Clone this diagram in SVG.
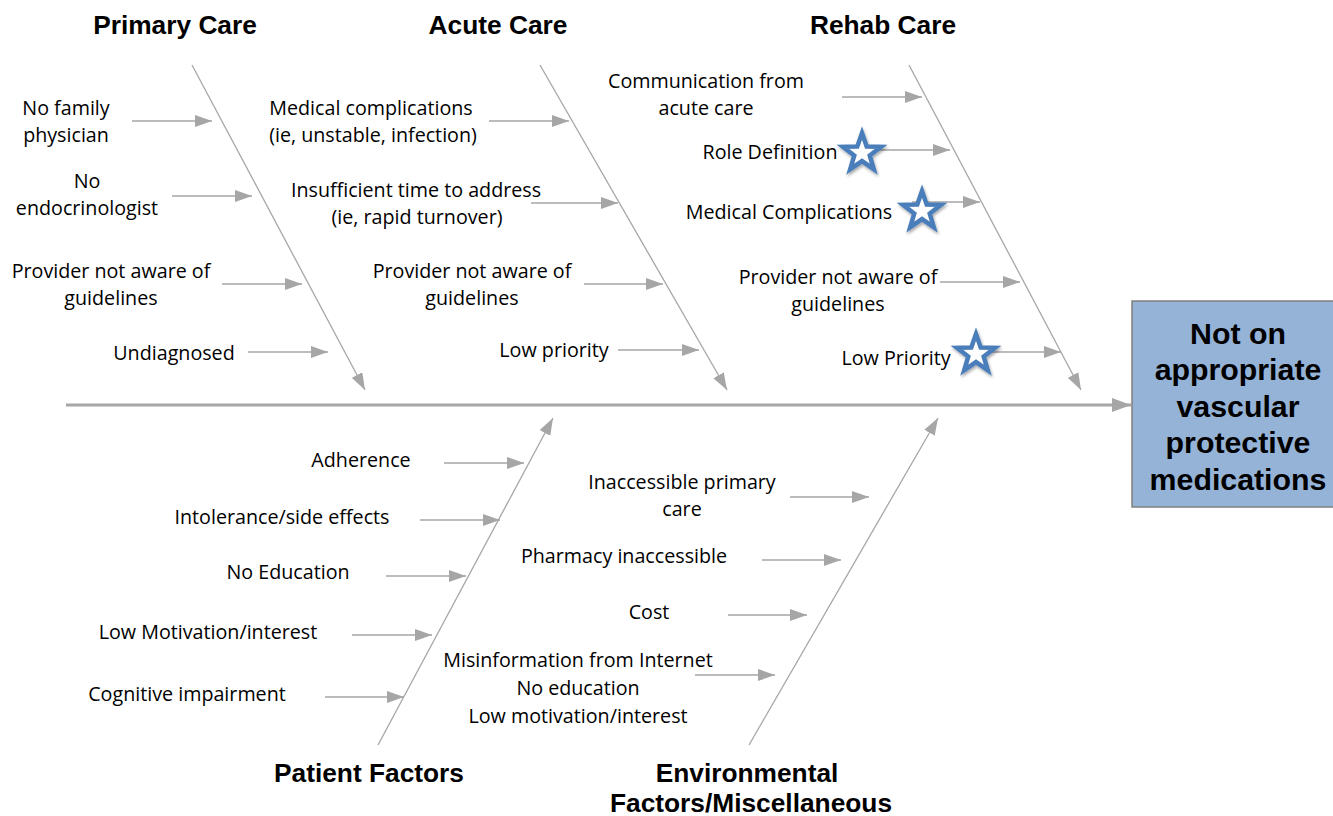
<svg xmlns="http://www.w3.org/2000/svg" width="1333" height="816" viewBox="0 0 1333 816">
  <style>
    .head { font-family: "Liberation Sans", Arial, sans-serif; font-weight: bold; font-size: 26.3px; fill: #000; text-anchor: middle; }
    .lbl { font-family: "Open Sans", "Liberation Sans", sans-serif; font-size: 19.7px; fill: #000; text-anchor: middle; }
    .goal { font-family: "Liberation Sans", Arial, sans-serif; font-weight: bold; font-size: 30.3px; fill: #000; text-anchor: middle; }
    .bone { stroke: #A6A6A6; stroke-width: 1.3; fill: none; marker-end: url(#ah); }
    .rib { stroke: #A6A6A6; stroke-width: 1.3; fill: none; marker-end: url(#ah); }
    .spine { stroke: #A6A6A6; stroke-width: 3; fill: none; marker-end: url(#ahBig); }
    .star { fill: #fff; stroke: #4A7EBB; stroke-width: 4.5; stroke-linejoin: miter; filter: url(#shadow); }
  </style>
  <defs>
    <marker id="ah" markerUnits="userSpaceOnUse" markerWidth="18" markerHeight="12" refX="17" refY="6" orient="auto">
      <path d="M0,0 L17,6 L0,12 Z" fill="#A6A6A6"/>
    </marker>
    <marker id="ahBig" markerUnits="userSpaceOnUse" markerWidth="20" markerHeight="14" refX="19" refY="7" orient="auto">
      <path d="M0,0 L19,7 L0,14 Z" fill="#A6A6A6"/>
    </marker>
    <filter id="shadow" x="-30%" y="-30%" width="160%" height="160%">
      <feDropShadow dx="1" dy="2" stdDeviation="1.5" flood-color="#000" flood-opacity="0.35"/>
    </filter>
    <polygon id="starShape" points="0,-20 4.7,-6.5 19,-6.2 7.7,2.5 11.8,16.2 0,8.1 -11.8,16.2 -7.7,2.5 -19,-6.2 -4.7,-6.5"/>
  </defs>

  <!-- connectors: spine, category bones and cause ribs -->
  <g id="connectors">
    <line class="spine" x1="66" y1="405" x2="1131" y2="405"/>
    <line class="bone" x1="192" y1="65" x2="365" y2="390"/>
    <line class="bone" x1="540" y1="65" x2="727" y2="390"/>
    <line class="bone" x1="909" y1="65" x2="1081" y2="390"/>
    <line class="bone" x1="378" y1="745" x2="553" y2="418"/>
    <line class="bone" x1="749" y1="745" x2="938" y2="418"/>

    <line class="rib" x1="132" y1="121" x2="212" y2="121"/>
    <line class="rib" x1="172" y1="196" x2="252" y2="196"/>
    <line class="rib" x1="222" y1="284" x2="302" y2="284"/>
    <line class="rib" x1="248" y1="352" x2="328" y2="352"/>

    <line class="rib" x1="489" y1="121" x2="569" y2="121"/>
    <line class="rib" x1="531" y1="203" x2="618" y2="203"/>
    <line class="rib" x1="584" y1="284" x2="663" y2="284"/>
    <line class="rib" x1="618" y1="350" x2="699" y2="350"/>

    <line class="rib" x1="842" y1="97" x2="922" y2="97"/>
    <line class="rib" x1="870" y1="150" x2="950" y2="150"/>
    <line class="rib" x1="912" y1="202" x2="980" y2="202"/>
    <line class="rib" x1="940" y1="282" x2="1020" y2="282"/>
    <line class="rib" x1="988" y1="352" x2="1061" y2="352"/>

    <line class="rib" x1="444" y1="463" x2="524" y2="463"/>
    <line class="rib" x1="420" y1="520" x2="500" y2="520"/>
    <line class="rib" x1="386" y1="576" x2="466" y2="576"/>
    <line class="rib" x1="352" y1="635" x2="432" y2="635"/>
    <line class="rib" x1="325" y1="697" x2="404" y2="697"/>

    <line class="rib" x1="790" y1="497" x2="869" y2="497"/>
    <line class="rib" x1="762" y1="560" x2="841" y2="560"/>
    <line class="rib" x1="728" y1="615" x2="807" y2="615"/>
    <line class="rib" x1="695" y1="675" x2="775" y2="675"/>
  </g>

  <!-- effect box -->
  <g id="effect">
    <rect x="1132" y="301" width="205" height="206" fill="#95B3D7" stroke="#7F7F7F" stroke-width="1.5"/>
    <text class="goal" x="1238" y="344">Not on</text>
    <text class="goal" x="1238" y="380">appropriate</text>
    <text class="goal" x="1238" y="417">vascular</text>
    <text class="goal" x="1238" y="453">protective</text>
    <text class="goal" x="1238" y="490">medications</text>
  </g>

  <!-- category headings -->
  <g id="cat-primary"><text class="head" x="175" y="34">Primary Care</text></g>
  <g id="cat-acute"><text class="head" x="498" y="34">Acute Care</text></g>
  <g id="cat-rehab"><text class="head" x="883" y="34">Rehab Care</text></g>
  <g id="cat-patient"><text class="head" x="369" y="782">Patient Factors</text></g>
  <g id="cat-env">
    <text class="head" x="747" y="782">Environmental</text>
    <text class="head" x="751" y="812">Factors/Miscellaneous</text>
  </g>

  <!-- primary care causes -->
  <g id="primary-causes">
    <text class="lbl" x="66" y="115">No family</text>
    <text class="lbl" x="66" y="142">physician</text>
    <text class="lbl" x="87" y="188">No</text>
    <text class="lbl" x="87" y="215">endocrinologist</text>
    <text class="lbl" x="111" y="278">Provider not aware of</text>
    <text class="lbl" x="111" y="305">guidelines</text>
    <text class="lbl" x="174" y="360">Undiagnosed</text>
  </g>

  <!-- acute care causes -->
  <g id="acute-causes">
    <text class="lbl" x="371" y="115">Medical complications</text>
    <text class="lbl" x="373" y="142">(ie, unstable, infection)</text>
    <text class="lbl" x="416" y="197">Insufficient time to address</text>
    <text class="lbl" x="417" y="224">(ie, rapid turnover)</text>
    <text class="lbl" x="472" y="278">Provider not aware of</text>
    <text class="lbl" x="472" y="305">guidelines</text>
    <text class="lbl" x="554" y="357">Low priority</text>
  </g>

  <!-- rehab care causes -->
  <g id="rehab-causes">
    <text class="lbl" x="706" y="88">Communication from</text>
    <text class="lbl" x="706" y="115">acute care</text>
    <text class="lbl" x="770" y="159">Role Definition</text>
    <text class="lbl" x="789" y="219">Medical Complications</text>
    <text class="lbl" x="838" y="284">Provider not aware of</text>
    <text class="lbl" x="838" y="311">guidelines</text>
    <text class="lbl" x="896" y="365">Low Priority</text>
  </g>

  <!-- priority markers -->
  <g id="stars">
    <use href="#starShape" class="star" x="862" y="153"/>
    <use href="#starShape" class="star" x="922" y="211"/>
    <use href="#starShape" class="star" x="976" y="354"/>
  </g>

  <!-- patient factor causes -->
  <g id="patient-causes">
    <text class="lbl" x="361" y="467">Adherence</text>
    <text class="lbl" x="282" y="524">Intolerance/side effects</text>
    <text class="lbl" x="288" y="579">No Education</text>
    <text class="lbl" x="208" y="639">Low Motivation/interest</text>
    <text class="lbl" x="187" y="701">Cognitive impairment</text>
  </g>

  <!-- environmental causes -->
  <g id="env-causes">
    <text class="lbl" x="682" y="489">Inaccessible primary</text>
    <text class="lbl" x="682" y="516">care</text>
    <text class="lbl" x="624" y="563">Pharmacy inaccessible</text>
    <text class="lbl" x="649" y="619">Cost</text>
    <text class="lbl" x="578" y="667">Misinformation from Internet</text>
    <text class="lbl" x="578" y="695">No education</text>
    <text class="lbl" x="578" y="723">Low motivation/interest</text>
  </g>
</svg>
